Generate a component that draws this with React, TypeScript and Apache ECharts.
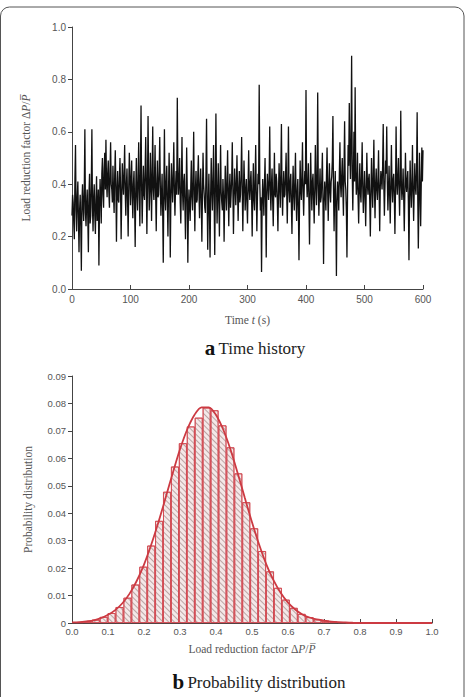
import React, { useEffect, useRef } from "react";
import * as echarts from "echarts";

// Time history (sampled every 1 s, 0..600 s)
const TIME_STEP = 1;
const LOAD = [
  0.28, 0.36, 0.33, 0.25, 0.19, 0.42, 0.55, 0.30, 0.22, 0.35, 0.41, 0.27, 0.14, 0.30, 0.36, 0.24, 0.07, 0.33, 0.40, 0.31,
  0.26, 0.38, 0.61, 0.29, 0.24, 0.33, 0.38, 0.27, 0.14, 0.36, 0.44, 0.25, 0.28, 0.40, 0.61, 0.31, 0.22, 0.35, 0.40, 0.28,
  0.21, 0.34, 0.43, 0.26, 0.30, 0.38, 0.09, 0.31, 0.42, 0.35, 0.25, 0.44, 0.50, 0.36, 0.31, 0.46, 0.52, 0.38, 0.57, 0.41,
  0.35, 0.44, 0.49, 0.37, 0.31, 0.45, 0.56, 0.40, 0.38, 0.33, 0.47, 0.36, 0.29, 0.43, 0.53, 0.39, 0.18, 0.37, 0.45, 0.34,
  0.33, 0.42, 0.50, 0.38, 0.19, 0.35, 0.48, 0.41, 0.36, 0.44, 0.55, 0.37, 0.28, 0.40, 0.46, 0.34, 0.20, 0.39, 0.52, 0.43,
  0.32, 0.41, 0.49, 0.35, 0.27, 0.40, 0.45, 0.33, 0.16, 0.38, 0.50, 0.36, 0.30, 0.42, 0.56, 0.37, 0.24, 0.45, 0.70, 0.39,
  0.25, 0.38, 0.47, 0.36, 0.34, 0.45, 0.58, 0.40, 0.21, 0.39, 0.66, 0.43, 0.30, 0.37, 0.52, 0.41, 0.26, 0.44, 0.62, 0.38,
  0.34, 0.42, 0.55, 0.36, 0.22, 0.40, 0.49, 0.35, 0.36, 0.45, 0.58, 0.39, 0.28, 0.36, 0.44, 0.30, 0.10, 0.38, 0.61, 0.35,
  0.30, 0.41, 0.47, 0.33, 0.20, 0.37, 0.52, 0.38, 0.12, 0.34, 0.48, 0.40, 0.33, 0.43, 0.56, 0.37, 0.28, 0.39, 0.45, 0.36,
  0.73, 0.44, 0.36, 0.42, 0.50, 0.33, 0.25, 0.40, 0.58, 0.37, 0.30, 0.41, 0.44, 0.32, 0.19, 0.35, 0.54, 0.38, 0.10, 0.30,
  0.38, 0.31, 0.26, 0.39, 0.49, 0.35, 0.30, 0.42, 0.60, 0.36, 0.22, 0.38, 0.45, 0.33, 0.34, 0.43, 0.51, 0.37, 0.27, 0.40,
  0.46, 0.33, 0.18, 0.36, 0.52, 0.40, 0.36, 0.31, 0.29, 0.44, 0.65, 0.35, 0.15, 0.33, 0.44, 0.29, 0.12, 0.36, 0.50, 0.38,
  0.30, 0.41, 0.55, 0.33, 0.13, 0.38, 0.67, 0.40, 0.25, 0.36, 0.48, 0.34, 0.20, 0.39, 0.55, 0.37, 0.33, 0.30, 0.42, 0.35,
  0.18, 0.34, 0.47, 0.37, 0.30, 0.41, 0.53, 0.36, 0.24, 0.38, 0.44, 0.31, 0.36, 0.42, 0.56, 0.38, 0.21, 0.35, 0.46, 0.39,
  0.32, 0.40, 0.51, 0.37, 0.26, 0.38, 0.45, 0.33, 0.36, 0.44, 0.58, 0.39, 0.22, 0.36, 0.49, 0.40, 0.30, 0.37, 0.42, 0.33,
  0.25, 0.39, 0.53, 0.38, 0.34, 0.41, 0.45, 0.35, 0.20, 0.37, 0.48, 0.34, 0.30, 0.42, 0.55, 0.36, 0.22, 0.35, 0.44, 0.40,
  0.78, 0.41, 0.30, 0.35, 0.065, 0.31, 0.42, 0.36, 0.28, 0.40, 0.50, 0.33, 0.12, 0.37, 0.44, 0.39, 0.34, 0.42, 0.62, 0.38,
  0.30, 0.40, 0.46, 0.34, 0.24, 0.38, 0.52, 0.36, 0.35, 0.44, 0.41, 0.33, 0.22, 0.37, 0.48, 0.39, 0.31, 0.45, 0.63, 0.37,
  0.28, 0.39, 0.45, 0.35, 0.36, 0.43, 0.52, 0.37, 0.25, 0.40, 0.62, 0.38, 0.33, 0.41, 0.44, 0.32, 0.21, 0.37, 0.47, 0.36,
  0.30, 0.41, 0.52, 0.35, 0.26, 0.37, 0.42, 0.30, 0.11, 0.34, 0.49, 0.38, 0.34, 0.43, 0.56, 0.37, 0.28, 0.39, 0.45, 0.40,
  0.76, 0.42, 0.35, 0.40, 0.48, 0.33, 0.17, 0.36, 0.52, 0.39, 0.30, 0.41, 0.44, 0.34, 0.25, 0.38, 0.55, 0.40, 0.32, 0.43,
  0.75, 0.40, 0.28, 0.37, 0.46, 0.33, 0.35, 0.42, 0.52, 0.34, 0.095, 0.33, 0.41, 0.36, 0.30, 0.43, 0.54, 0.38, 0.26, 0.39,
  0.48, 0.37, 0.33, 0.41, 0.43, 0.49, 0.66, 0.38, 0.22, 0.36, 0.45, 0.31, 0.05, 0.33, 0.41, 0.37, 0.30, 0.44, 0.56, 0.40,
  0.35, 0.43, 0.50, 0.38, 0.28, 0.46, 0.64, 0.41, 0.38, 0.30, 0.12, 0.36, 0.55, 0.47, 0.71, 0.52, 0.42, 0.58, 0.89, 0.45,
  0.30, 0.44, 0.60, 0.41, 0.77, 0.45, 0.36, 0.40, 0.52, 0.35, 0.25, 0.38, 0.48, 0.37, 0.33, 0.43, 0.56, 0.39, 0.29, 0.37,
  0.45, 0.36, 0.24, 0.38, 0.52, 0.40, 0.36, 0.42, 0.44, 0.33, 0.20, 0.37, 0.50, 0.39, 0.31, 0.43, 0.57, 0.38, 0.27, 0.40,
  0.46, 0.38, 0.34, 0.41, 0.53, 0.37, 0.22, 0.39, 0.45, 0.42, 0.38, 0.47, 0.63, 0.40, 0.28, 0.39, 0.49, 0.44, 0.62, 0.41,
  0.30, 0.38, 0.47, 0.36, 0.25, 0.40, 0.55, 0.39, 0.33, 0.42, 0.44, 0.35, 0.21, 0.38, 0.62, 0.41, 0.36, 0.43, 0.50, 0.38,
  0.28, 0.41, 0.68, 0.40, 0.34, 0.38, 0.46, 0.35, 0.22, 0.37, 0.52, 0.40, 0.37, 0.42, 0.45, 0.33, 0.11, 0.35, 0.49, 0.38,
  0.31, 0.40, 0.55, 0.37, 0.26, 0.38, 0.48, 0.39, 0.36, 0.45, 0.675, 0.36, 0.155, 0.33, 0.52, 0.38, 0.24, 0.40, 0.54, 0.41,
  0.53,
];

// Histogram: bins of width 0.022 centred at 0.022, 0.044, ...
const BIN_WIDTH = 0.022;
const HIST = [
  0.0003, 0.0006, 0.0012, 0.0022, 0.0036, 0.0058, 0.0092, 0.014, 0.0205, 0.0282,
  0.0372, 0.0478, 0.057, 0.0655, 0.0716, 0.0748, 0.0785, 0.0775, 0.072, 0.064,
  0.0545, 0.044, 0.0345, 0.0262, 0.0188, 0.0128, 0.0085, 0.0055, 0.0033, 0.0021,
  0.0013, 0.0008, 0.0005, 0.0003, 0.0002, 0.0001, 0.0001, 0.00005, 0.00003, 0.00002,
];

// Fitted curve sampled every 0.02 from 0 to 1
const CURVE_STEP = 0.02;
const CURVE = [
  0.0002, 0.0003, 0.0006, 0.001, 0.0018, 0.003, 0.0047, 0.0072, 0.0107, 0.0154,
  0.0213, 0.0285, 0.0367, 0.0456, 0.0547, 0.0633, 0.0705, 0.0758, 0.0786, 0.0786,
  0.0758, 0.0705, 0.0633, 0.0547, 0.0456, 0.0367, 0.0285, 0.0213, 0.0155, 0.0109,
  0.0074, 0.0049, 0.0031, 0.002, 0.0013, 0.0009, 0.0005, 0.0003, 0.0002, 0.0001,
  0.00005, 0, 0, 0, 0, 0, 0, 0, 0, 0, 0,
];

const W = 467;
const H = 697;
const G2_LEFT = 72;
const G2_RIGHT = 35;

const SERIF = "'Liberation Serif', 'DejaVu Serif', serif";
const SANS = "'Liberation Sans', Arial, sans-serif";
const AXIS_COLOR = "#444";
const TEXT_COLOR = "#555";

export default function App() {
  const ref = useRef<HTMLDivElement>(null);

  useEffect(() => {
    document.body.style.margin = "0";
    if (!ref.current) return;
    const chart = echarts.init(ref.current, undefined, { renderer: "svg" });

    const nameRich = {
      a: { fontFamily: SERIF, fontSize: 11.5, color: TEXT_COLOR },
      i: { fontFamily: SERIF, fontSize: 11.5, color: TEXT_COLOR, fontStyle: "italic" },
    };
    const axisCommon = {
      axisLine: { show: true, onZero: false, lineStyle: { color: AXIS_COLOR, width: 1 } },
      splitLine: { show: false },
    };

    const barPx = (W - G2_LEFT - G2_RIGHT) * BIN_WIDTH;

    chart.setOption({
      animation: false,
      backgroundColor: "#fff",
      grid: [
        { left: 72, right: 44, top: 27, bottom: 408 },
        { left: G2_LEFT, right: G2_RIGHT, top: 376, bottom: 74 },
      ],
      xAxis: [
        {
          type: "value",
          gridIndex: 0,
          min: 0,
          max: 600,
          interval: 100,
          ...axisCommon,
          axisTick: { show: true, inside: true, length: 4, lineStyle: { color: AXIS_COLOR } },
          axisLabel: { color: TEXT_COLOR, fontSize: 10, fontFamily: SANS, margin: 5 },
          name: "{a|Time }{i|t}{a| (s)}",
          nameLocation: "middle",
          nameGap: 25,
          nameTextStyle: { rich: nameRich },
        },
        {
          type: "value",
          gridIndex: 1,
          min: 0,
          max: 1,
          interval: 0.1,
          ...axisCommon,
          axisTick: { show: true, inside: true, length: 4, lineStyle: { color: AXIS_COLOR } },
          axisLabel: {
            color: TEXT_COLOR,
            fontSize: 9.5,
            fontFamily: SANS,
            margin: 3,
            formatter: (v: number) => v.toFixed(1),
          },
          name: "{a|Load reduction factor Δ}{i|P}{a|/}{i|P\u0305}",
          nameLocation: "middle",
          nameGap: 20,
          nameTextStyle: { rich: nameRich },
        },
      ],
      yAxis: [
        {
          type: "value",
          gridIndex: 0,
          min: 0,
          max: 1,
          interval: 0.2,
          ...axisCommon,
          axisTick: { show: true, inside: false, length: 4, lineStyle: { color: AXIS_COLOR } },
          axisLabel: {
            color: TEXT_COLOR,
            fontSize: 10,
            fontFamily: SANS,
            margin: 6,
            formatter: (v: number) => v.toFixed(1),
          },
          name: "{a|Load reduction factor Δ}{i|P}{a|/}{i|P\u0305}",
          nameLocation: "middle",
          nameGap: 40,
          nameTextStyle: { rich: nameRich },
        },
        {
          type: "value",
          gridIndex: 1,
          min: 0,
          max: 0.09,
          interval: 0.01,
          ...axisCommon,
          axisTick: { show: true, inside: false, length: 4, lineStyle: { color: AXIS_COLOR } },
          axisLabel: {
            color: TEXT_COLOR,
            fontSize: 9.5,
            fontFamily: SANS,
            margin: 6,
            formatter: (v: number) => (v === 0 ? "0" : v.toFixed(2)),
          },
          name: "{a|Probability distribution}",
          nameLocation: "middle",
          nameGap: 38,
          nameTextStyle: { rich: nameRich },
        },
      ],
      series: [
        {
          type: "line",
          xAxisIndex: 0,
          yAxisIndex: 0,
          data: LOAD.map((v, i) => [i * TIME_STEP, v]),
          showSymbol: false,
          symbol: "none",
          lineStyle: { color: "#111", width: 1.3 },
        },
        {
          type: "bar",
          xAxisIndex: 1,
          yAxisIndex: 1,
          data: HIST.map((v, i) => [(i + 1) * BIN_WIDTH, v]),
          barWidth: barPx,
          itemStyle: {
            color: "#f4e8e8",
            borderColor: "#d2454e",
            borderWidth: 0.8,
            decal: {
              symbol: "rect",
              symbolSize: 1,
              dashArrayX: [1, 0],
              dashArrayY: [1, 2.2],
              rotation: Math.PI / 4,
              color: "rgba(150,120,120,0.6)",
            },
          },
        },
        {
          type: "line",
          xAxisIndex: 1,
          yAxisIndex: 1,
          data: CURVE.map((v, i) => [i * CURVE_STEP, v]),
          smooth: 0.3,
          showSymbol: false,
          symbol: "none",
          lineStyle: { color: "#cc3a42", width: 1.8 },
          z: 5,
        },
      ],
      graphic: [
        {
          type: "rect",
          shape: { x: 0.5, y: 7, width: 463.5, height: 720, r: 9 },
          style: { fill: "none", stroke: "#555", lineWidth: 1 },
          silent: true,
        },
        {
          type: "text",
          style: {
            x: 255,
            y: 348,
            align: "center",
            verticalAlign: "middle",
            text: "{b|a} {n|Time history}",
            rich: {
              b: { fontFamily: SERIF, fontSize: 21, fontWeight: "bold", fill: "#111" },
              n: { fontFamily: SERIF, fontSize: 17, fill: "#222" },
            },
          },
        },
        {
          type: "text",
          style: {
            x: 259,
            y: 682,
            align: "center",
            verticalAlign: "middle",
            text: "{b|b} {n|Probability distribution}",
            rich: {
              b: { fontFamily: SERIF, fontSize: 21, fontWeight: "bold", fill: "#111" },
              n: { fontFamily: SERIF, fontSize: 17, fill: "#222" },
            },
          },
        },
      ],
    });

    return () => chart.dispose();
  }, []);

  return (
    <div style={{ position: "absolute", left: 0, top: 0 }}>
      <div ref={ref} style={{ width: W, height: H }} />
    </div>
  );
}
